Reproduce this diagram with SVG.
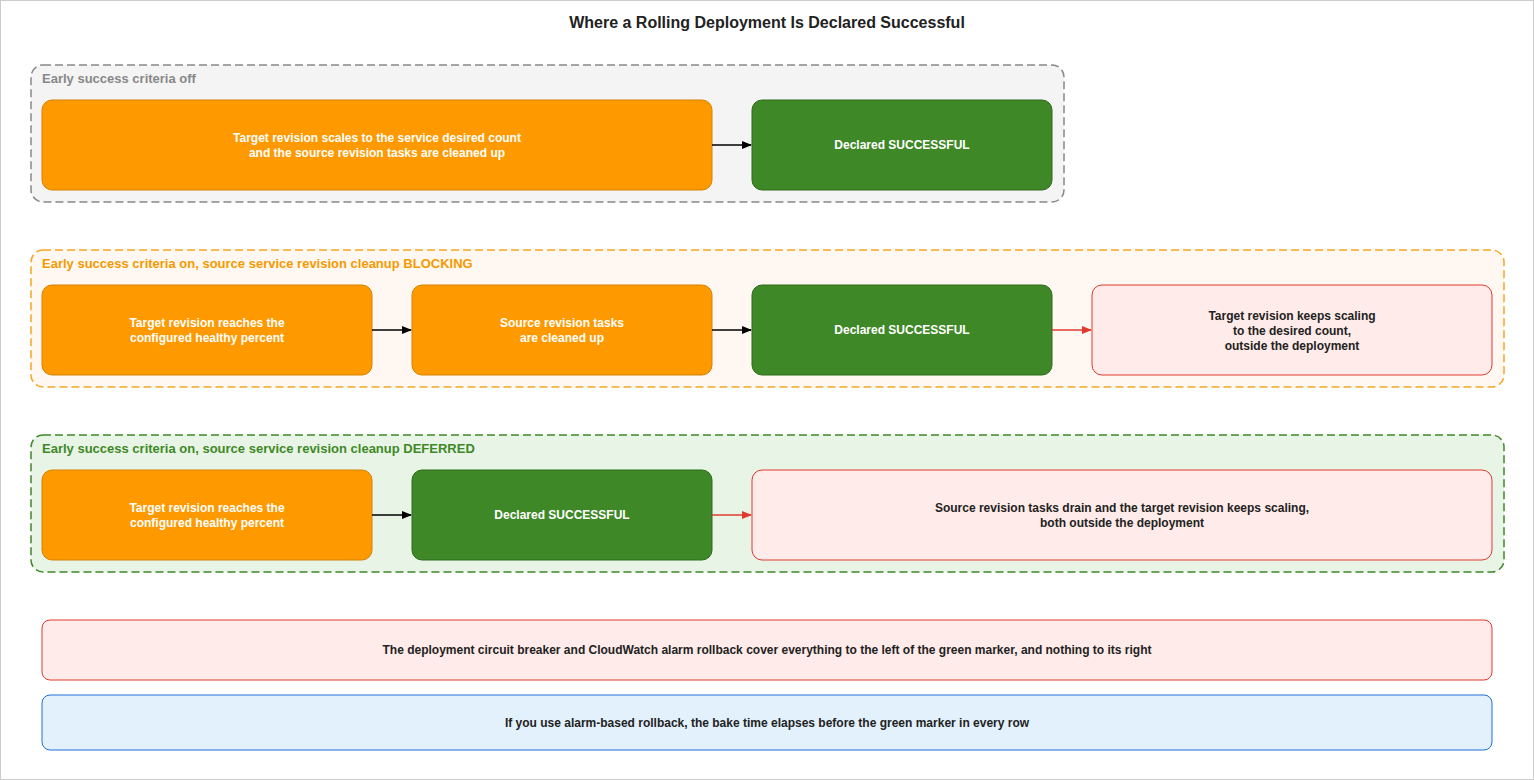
<svg xmlns="http://www.w3.org/2000/svg" width="1534" height="780" viewBox="0 0 1534 780">
<style>
text{font-family:"Liberation Sans",Arial,sans-serif;font-weight:bold;font-size:12px;text-anchor:middle}
.w{fill:#fff}.d{fill:#222}
.or{fill:#ff9900;stroke:#d68100}
.gr{fill:#3f8827;stroke:#2d6a1b}
.pk{fill:#ffebe9;stroke:#e03a2f}
.lab{text-anchor:start;font-size:13px}
</style>
<defs>
<marker id="ab" markerWidth="10" markerHeight="10" refX="9" refY="5" orient="auto" markerUnits="userSpaceOnUse"><path d="M0,1 L10,5 L0,9 Z" fill="#000"/></marker>
<marker id="ar" markerWidth="10" markerHeight="10" refX="9" refY="5" orient="auto" markerUnits="userSpaceOnUse"><path d="M0,1 L10,5 L0,9 Z" fill="#e03a2f"/></marker>
</defs>
<rect x="0.5" y="0.5" width="1533" height="779" fill="#fff" stroke="#ccc"/>
<text x="767" y="28" class="d" style="font-size:16px">Where a Rolling Deployment Is Declared Successful</text>
<g id="grp1"><rect x="31" y="65" width="1033" height="137" rx="12" fill="#f4f4f4" stroke="#888" stroke-dasharray="8,4" stroke-width="1.5"/><text x="42" y="83" class="lab" fill="#888">Early success criteria off</text></g>
<g id="grp2"><rect x="31" y="250" width="1473" height="137" rx="12" fill="#fff8f2" stroke="#f5a623" stroke-dasharray="8,4" stroke-width="1.5"/><text x="42" y="268" class="lab" fill="#f59a00">Early success criteria on, source service revision cleanup BLOCKING</text></g>
<g id="grp3"><rect x="31" y="435" width="1473" height="137" rx="12" fill="#e8f5e6" stroke="#3f8827" stroke-dasharray="8,4" stroke-width="1.5"/><text x="42" y="453" class="lab" fill="#3f8827">Early success criteria on, source service revision cleanup DEFERRED</text></g>
<g id="n1"><rect class="or" x="42" y="100" width="670" height="90" rx="10"/><text class="w" x="377" y="142">Target revision scales to the service desired count</text><text class="w" x="377" y="157">and the source revision tasks are cleaned up</text></g>
<g id="n2"><rect class="gr" x="752" y="100" width="300" height="90" rx="10"/><text class="w" x="902" y="149">Declared SUCCESSFUL</text></g>
<g id="n3"><rect class="or" x="42" y="285" width="330" height="90" rx="10"/><text class="w" x="207" y="327">Target revision reaches the</text><text class="w" x="207" y="342">configured healthy percent</text></g>
<g id="n4"><rect class="or" x="412" y="285" width="300" height="90" rx="10"/><text class="w" x="562" y="327">Source revision tasks</text><text class="w" x="562" y="342">are cleaned up</text></g>
<g id="n5"><rect class="gr" x="752" y="285" width="300" height="90" rx="10"/><text class="w" x="902" y="334">Declared SUCCESSFUL</text></g>
<g id="n6"><rect class="pk" x="1092" y="285" width="400" height="90" rx="10"/><text class="d" x="1292" y="320">Target revision keeps scaling</text><text class="d" x="1292" y="335">to the desired count,</text><text class="d" x="1292" y="350">outside the deployment</text></g>
<g id="n7"><rect class="or" x="42" y="470" width="330" height="90" rx="10"/><text class="w" x="207" y="512">Target revision reaches the</text><text class="w" x="207" y="527">configured healthy percent</text></g>
<g id="n8"><rect class="gr" x="412" y="470" width="300" height="90" rx="10"/><text class="w" x="562" y="519">Declared SUCCESSFUL</text></g>
<g id="n9"><rect class="pk" x="752" y="470" width="740" height="90" rx="10"/><text class="d" x="1122" y="512">Source revision tasks drain and the target revision keeps scaling,</text><text class="d" x="1122" y="527">both outside the deployment</text></g>
<g id="n10"><rect class="pk" x="42" y="620" width="1450" height="60" rx="8"/><text class="d" x="767" y="654">The deployment circuit breaker and CloudWatch alarm rollback cover everything to the left of the green marker, and nothing to its right</text></g>
<g id="n11"><rect x="42" y="695" width="1450" height="55" rx="8" fill="#e3f1fd" stroke="#1f6fd6"/><text class="d" x="767" y="727">If you use alarm-based rollback, the bake time elapses before the green marker in every row</text></g>
<g id="connectors" stroke-width="1.5" fill="none">
<path d="M712,145 H751" stroke="#000" marker-end="url(#ab)"/>
<path d="M372,330 H411" stroke="#000" marker-end="url(#ab)"/>
<path d="M712,330 H751" stroke="#000" marker-end="url(#ab)"/>
<path d="M1052,330 H1091" stroke="#e03a2f" marker-end="url(#ar)"/>
<path d="M372,515 H411" stroke="#000" marker-end="url(#ab)"/>
<path d="M712,515 H751" stroke="#e03a2f" marker-end="url(#ar)"/>
</g>
</svg>
